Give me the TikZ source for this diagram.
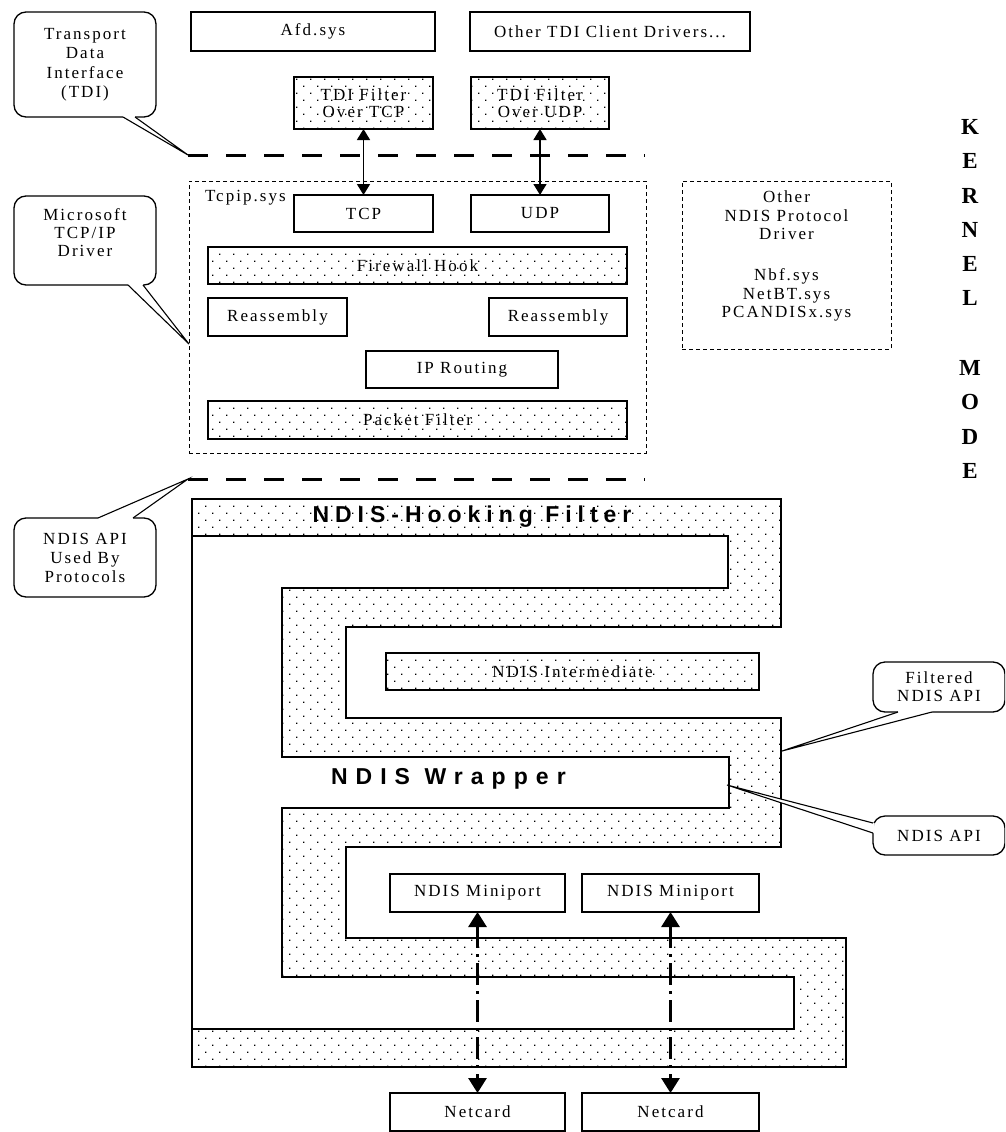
\documentclass[tikz,border=0pt]{standalone}
\usepackage{fontspec}
\setmainfont{Liberation Serif}
\newfontfamily\bodyfont{Liberation Serif}[LetterSpace=12]
\newfontfamily\headfont{Liberation Sans}[LetterSpace=26]
\newfontfamily\wrapfont{Liberation Sans}[LetterSpace=35]
\newfontfamily\kernfont{Liberation Serif}
\usetikzlibrary{arrows.meta,patterns,calc}
\pgfdeclarepatternformonly{sdots}{\pgfpoint{-1pt}{-1pt}}{\pgfpoint{15pt}{15pt}}{\pgfpoint{14pt}{14pt}}{%
  \pgfpathrectangle{\pgfpoint{2pt}{2pt}}{\pgfpoint{1.4pt}{1.4pt}}%
  \pgfpathrectangle{\pgfpoint{9pt}{9pt}}{\pgfpoint{1.4pt}{1.4pt}}%
  \pgfusepath{fill}}
\begin{document}
\begin{tikzpicture}[x=1pt,y=-1pt,
  every node/.style={font=\bodyfont\fontsize{17}{19}\selectfont, inner sep=0pt, outer sep=0pt},
  box/.style={draw, line width=1.3pt, minimum height=38pt},
  dbox/.style={box, pattern=sdots},
  dashbox/.style={draw, line width=1pt, dash pattern=on 4pt off 3pt},
  bigdash/.style={line width=3pt, dash pattern=on 20pt off 18pt},
  cline/.style={line width=1.1pt},
  callout/.style={draw, line width=1.3pt, rounded corners=12pt, fill=white},
  tdiarrow/.style={line width=1.4pt, {Triangle[length=11pt,width=13pt]}-{Triangle[length=11pt,width=13pt]}},
  mparrow/.style={line width=3pt, dash pattern=on 22pt off 6pt on 3pt off 6pt, {Triangle[length=15pt,width=18pt]}-{Triangle[length=15pt,width=18pt]}},
  hook/.style={draw, line width=1.3pt, pattern=sdots},
  headtext/.style={font=\headfont\bfseries\fontsize{23}{23}\selectfont},
  wraptext/.style={font=\wrapfont\bfseries\fontsize{23}{23}\selectfont},
  kletter/.style={font=\kernfont\bfseries\fontsize{23}{23}\selectfont}
]
\useasboundingbox (0,0) rectangle (1005,1132);
\clip (0,0) rectangle (1005,1132);
\fill[white] (0,0) rectangle (1005,1132);

% ---- top row ----
\node[box, minimum width=244pt, minimum height=39pt] (afd) at (313,31.5) {Afd.sys};
\node[box, minimum width=280pt, minimum height=39pt] (otdi) at (610,31.5) {Other TDI Client Drivers...};
\node[dbox, minimum width=139pt, minimum height=52pt, align=center] (ftcp) at (363.5,103) {TDI Filter\\[-2pt]Over TCP};
\node[dbox, minimum width=138pt, minimum height=52pt, align=center] (fudp) at (540,103) {TDI Filter\\[-2pt]Over UDP};

\coordinate (tdiL) at (188,155);
\coordinate (tdiR) at (645,155);
\draw[bigdash] (tdiL) -- (tdiR);

% ---- Tcpip.sys ----
\node[dashbox, minimum width=457pt, minimum height=272pt] (tcpip) at (417.5,317) {};
\node[anchor=west] (tcpiplbl) at (205,198) {Tcpip.sys};
\node[box, fill=white, minimum width=139pt, minimum height=37pt] (tcp) at (363.5,213.5) {TCP};
\node[box, fill=white, minimum width=138pt, minimum height=37pt] (udp) at (540,213.5) {UDP};
\node[dbox, minimum width=419pt, minimum height=37pt] (fw) at (417.5,265.5) {Firewall Hook};
\node[box, minimum width=139pt] (reasL) at (277.5,317) {Reassembly};
\node[box, minimum width=138pt] (reasR) at (558,317) {Reassembly};
\node[box, minimum width=192pt, minimum height=37pt] (iprt) at (462,369.5) {IP Routing};
\node[dbox, minimum width=419pt] (pf) at (417.5,420) {Packet Filter};

\draw[tdiarrow] (ftcp.south) -- (tcp.north);
\draw[tdiarrow] (fudp.south) -- (udp.north);

% ---- Other NDIS protocol driver ----
\node[dashbox, minimum width=209pt, minimum height=168pt] (ondis) at (786.5,265) {};
\node[align=center, font=\bodyfont\fontsize{17}{18.5}\selectfont] (ondistxt) at (786.5,256) {Other\\NDIS Protocol\\Driver\\[22.5pt]Nbf.sys\\NetBT.sys\\PCANDISx.sys};

\coordinate (ndisL) at (188,479);
\coordinate (ndisR) at (645,479);
\draw[bigdash] (ndisL) -- (ndisR);

% ---- KERNEL MODE ----
\foreach \l/\yy [count=\i] in {K/127,E/161,R/196,N/230,E/264,L/298,M/368,O/402,D/437,E/471}
  \node[kletter] (k\i) at (970,\yy) {\l};

% ---- NDIS hooking filter / wrapper ----
\draw[hook] (192,499) -- (781,499) -- (781,627) -- (346,627) -- (346,718) -- (781,718)
  -- (781,847) -- (346,847) -- (346,938) -- (846,938) -- (846,1067) -- (192,1067)
  -- (192,1029) -- (794,1029) -- (794,977) -- (282,977) -- (282,808) -- (729,808)
  -- (729,757) -- (282,757) -- (282,588) -- (728,588) -- (728,536) -- (192,536) -- cycle;
\draw[line width=1.3pt] (192,536) -- (192,1029);

\node[headtext] (hooktxt) at (472,517) {NDIS-Hooking Filter};
\node[wraptext, anchor=west] (wraptxt) at (331,779) {NDIS Wrapper};
\node[dbox, minimum width=373pt, minimum height=37pt] (inter) at (572.5,671.5) {NDIS Intermediate};

\node[box, minimum width=175pt] (mp1) at (477.5,893) {NDIS Miniport};
\node[box, minimum width=177pt] (mp2) at (670.5,893) {NDIS Miniport};
\node[box, minimum width=175pt] (nc1) at (477.5,1112) {Netcard};
\node[box, minimum width=177pt] (nc2) at (670.5,1112) {Netcard};
\draw[mparrow] (mp1.south) -- (nc1.north);
\draw[mparrow] (mp2.south) -- (nc2.north);

% ---- callouts ----
% TDI
\node[callout, minimum width=142pt, minimum height=105pt, align=center, font=\bodyfont\fontsize{17}{19.5}\selectfont] (ctdi) at (85,64.5) {Transport\\Data\\Interface\\(TDI)};
\coordinate (ctdi1) at ($(ctdi.south)+(38,0)$);
\coordinate (ctdi2) at ($(ctdi.south)+(50,0)$);
\fill[white] ($(ctdi1)+(0,-1.6)$) -- (ctdi1) -- (tdiL) -- (ctdi2) -- ($(ctdi2)+(0,-1.6)$) -- cycle;
\draw[cline] (ctdi1) -- (tdiL) -- (ctdi2);

% Microsoft TCP/IP driver
\node[callout, minimum width=142pt, minimum height=89pt] (cms) at (85,240.5) {};
\node[align=center, font=\bodyfont\fontsize{17}{18}\selectfont] (cmstxt) at (85,233) {Microsoft\\TCP/IP\\Driver};
\coordinate (mstip) at ($(tcpip.west)+(0,27)$);
\coordinate (cms1) at ($(cms.south)+(43,0)$);
\coordinate (cms2) at ($(cms.south)+(58,0)$);
\fill[white] ($(cms1)+(0,-1.6)$) -- (cms1) -- (mstip) -- (cms2) -- ($(cms2)+(0,-1.6)$) -- cycle;
\draw[cline] (cms1) -- (mstip) -- (cms2);

% NDIS API used by protocols
\node[callout, minimum width=142pt, minimum height=79pt, align=center] (cnu) at (85,557.5) {NDIS API\\Used By\\Protocols};
\coordinate (cnu1) at ($(cnu.north)+(13,0)$);
\coordinate (cnu2) at ($(cnu.north)+(48,0)$);
\fill[white] ($(cnu1)+(0,1.6)$) -- (cnu1) -- (ndisL) -- (cnu2) -- ($(cnu2)+(0,1.6)$) -- cycle;
\draw[cline] (cnu1) -- (ndisL) -- (cnu2);

% Filtered NDIS API
\node[callout, minimum width=132pt, minimum height=50pt, align=center, font=\bodyfont\fontsize{17}{18}\selectfont] (cfil) at (939,687) {Filtered\\NDIS API};
\coordinate (filtip) at (782,751);
\coordinate (cfil1) at ($(cfil.south)+(-41,0)$);
\coordinate (cfil2) at ($(cfil.south)+(-7,0)$);
\fill[white] ($(cfil1)+(0,-1.6)$) -- (cfil1) -- (filtip) -- (cfil2) -- ($(cfil2)+(0,-1.6)$) -- cycle;
\draw[cline] (cfil1) -- (filtip) -- (cfil2);

% NDIS API
\node[callout, minimum width=132pt, minimum height=39pt] (capi) at (939,835.5) {NDIS API};
\coordinate (apitip) at (727,785);
\coordinate (capi1) at ($(capi.west)+(0,-12.5)$);
\coordinate (capi2) at ($(capi.west)+(0,-2.5)$);
\fill[white] ($(capi1)+(1.6,0)$) -- (capi1) -- (apitip) -- (capi2) -- ($(capi2)+(1.6,0)$) -- cycle;
\draw[cline] (capi1) -- (apitip) -- (capi2);
\end{tikzpicture}
\end{document}
